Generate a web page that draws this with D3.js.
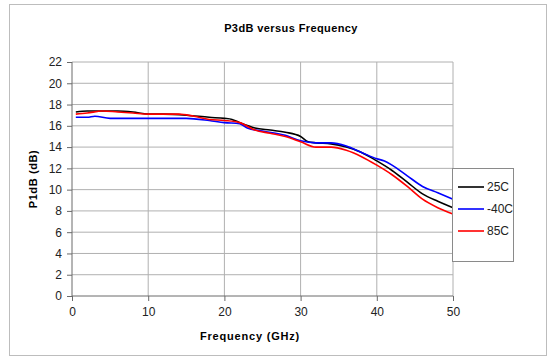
<!DOCTYPE html>
<html><head><meta charset="utf-8">
<script src="https://cdn.jsdelivr.net/npm/d3@7"></script>
<style>body{margin:0;background:#fff}svg{display:block}text{font-family:"Liberation Sans",Arial,sans-serif}</style>
</head><body>
<svg id="c" width="548" height="360"></svg>
<script>
const freqs25 = [0.5,2,4,6,8,10,12,15,18,20,21,22,24,26,28,30,31,32,34,36,38,40,42,44,46,48,50];
const p25 =     [17.3,17.4,17.4,17.4,17.3,17.1,17.1,17.0,16.8,16.7,16.6,16.3,15.8,15.6,15.4,15.0,14.5,14.4,14.3,14.0,13.5,12.7,11.8,10.7,9.6,8.9,8.3];
const freqsM40 = [0.5,2,3,5,8,10,12,15,18,20,22,23,25,28,30,32,34,36,38,40,41,42,44,46,48,50];
const pM40 =     [16.8,16.8,16.9,16.7,16.7,16.7,16.7,16.7,16.5,16.3,16.2,15.8,15.5,15.1,14.6,14.4,14.4,14.1,13.5,12.9,12.7,12.3,11.3,10.3,9.7,9.1];
const freqs85 = [0.5,2,4,6,8,10,14,16,18,20,22,24,26,28,30,32,34,36,38,40,42,44,46,48,50];
const p85 =     [17.1,17.2,17.4,17.3,17.2,17.1,17.1,16.9,16.6,16.5,16.3,15.6,15.3,15.0,14.5,14.0,14.0,13.7,13.1,12.3,11.4,10.3,9.1,8.3,7.7];
const seriesNames = ["25C","-40C","85C"];
const seriesColors = ["#000000","#0000ff","#ff0000"];
const xTicks = [0,10,20,30,40,50];
const yTicks = [0,2,4,6,8,10,12,14,16,18,20,22];

const svg = d3.select("#c");
svg.append("rect").attr("x",9.5).attr("y",4.5).attr("width",537).attr("height",351).attr("fill","#fff").attr("stroke","#bdbdbd");
const L=72,R=453,T=62,B=296;
const x = d3.scaleLinear().domain([0,50]).range([L,R]);
const y = d3.scaleLinear().domain([0,22]).range([B,T]);

const g = svg.append("g");
g.selectAll("line.vg").data(xTicks.slice(1)).enter().append("line")
 .attr("x1",d=>x(d)).attr("x2",d=>x(d)).attr("y1",T).attr("y2",B).attr("stroke","#b0b0b0").attr("stroke-width",1);
g.selectAll("line.hg").data(yTicks.slice(1)).enter().append("line")
 .attr("x1",L).attr("x2",R).attr("y1",d=>y(d)).attr("y2",d=>y(d)).attr("stroke","#b0b0b0").attr("stroke-width",1);

const xa = svg.append("g").attr("transform",`translate(0,${B})`)
 .call(d3.axisBottom(x).tickValues(xTicks).tickSize(5).tickPadding(6).tickFormat(d3.format("d")));
const ya = svg.append("g").attr("transform",`translate(${L},0)`)
 .call(d3.axisLeft(y).tickValues(yTicks).tickSize(5).tickPadding(5).tickFormat(d3.format("d")));
[xa,ya].forEach(a=>{a.select(".domain").attr("stroke","#6a6a6a");a.selectAll(".tick line").attr("stroke","#6a6a6a");
 a.selectAll("text").attr("font-size",12).attr("fill","#222").attr("font-family","Liberation Sans, Arial, sans-serif");});
xa.select(".domain").attr("d",`M${L},0H${R}`);
ya.select(".domain").attr("d",`M0,${B}V${T}`);

const data = [[freqs25,p25],[freqsM40,pM40],[freqs85,p85]];
const line = d3.line().x(d=>x(d[0])).y(d=>y(d[1])).curve(d3.curveMonotoneX);
data.forEach((s,i)=>{
  const pts = s[0].map((f,j)=>[f,s[1][j]]);
  svg.append("path").datum(pts).attr("d",line).attr("fill","none").attr("stroke",seriesColors[i]).attr("stroke-width",1.6);
});

svg.append("text").attr("x",291).attr("y",32).attr("text-anchor","middle").attr("font-size",11).attr("font-weight","bold").attr("letter-spacing","0.4").text("P3dB versus Frequency");
svg.append("text").attr("x",250).attr("y",340).attr("text-anchor","middle").attr("font-size",11).attr("font-weight","bold").attr("letter-spacing","0.8").text("Frequency (GHz)");
svg.append("text").attr("transform",`translate(37,${(T+B)/2}) rotate(-90)`).attr("text-anchor","middle").attr("font-size",11).attr("font-weight","bold").attr("letter-spacing","0.6").text("P1dB (dB)");

const lg = svg.append("g");
lg.append("rect").attr("x",452.5).attr("y",168.5).attr("width",61).attr("height",93).attr("fill","#fff").attr("stroke","#8a8a8a");
seriesNames.forEach((n,i)=>{
  const yy = 187 + i*22;
  lg.append("line").attr("x1",458).attr("x2",484).attr("y1",yy).attr("y2",yy).attr("stroke",seriesColors[i]).attr("stroke-width",1.6);
  lg.append("text").attr("x",487).attr("y",yy+4).attr("font-size",12).attr("fill","#222").text(n);
});
</script>
</body></html>
